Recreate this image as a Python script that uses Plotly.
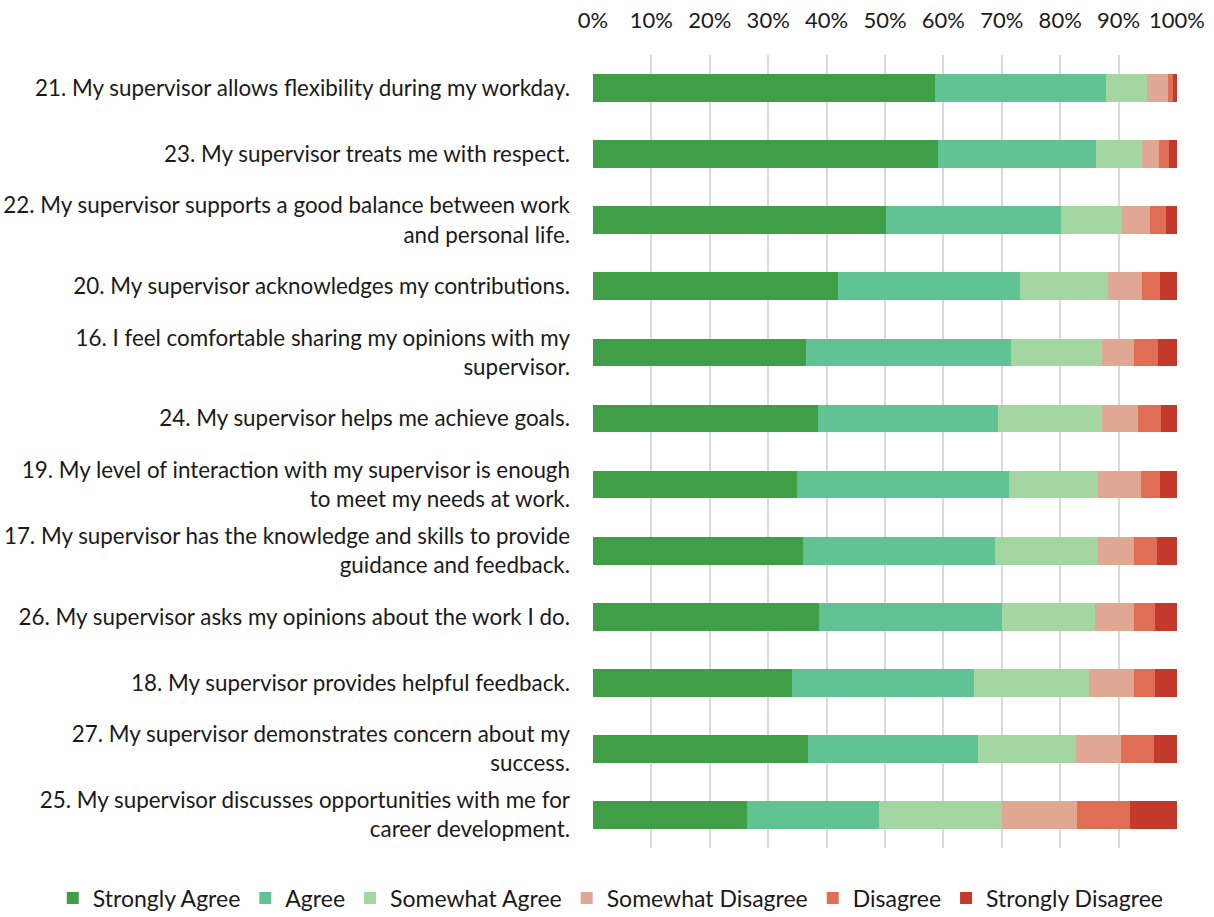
import plotly.graph_objects as go

# Survey items, listed top to bottom
items = [
    "21. My supervisor allows flexibility during my workday.",
    "23. My supervisor treats me with respect.",
    "22. My supervisor supports a good balance between work<br>and personal life.",
    "20. My supervisor acknowledges my contributions.",
    "16. I feel comfortable sharing my opinions with my<br>supervisor.",
    "24. My supervisor helps me achieve goals.",
    "19. My level of interaction with my supervisor is enough<br>to meet my needs at work.",
    "17. My supervisor has the knowledge and skills to provide<br>guidance and feedback.",
    "26. My supervisor asks my opinions about the work I do.",
    "18. My supervisor provides helpful feedback.",
    "27. My supervisor demonstrates concern about my<br>success.",
    "25. My supervisor discusses opportunities with me for<br>career development.",
]

# Response shares (percent) per item, same order as items
strongly_agree    = [58.6, 59.1, 50.1, 42.0, 36.4, 38.6, 34.9, 36.0, 38.7, 34.1, 36.8, 26.4]
agree             = [29.2, 27.1, 30.1, 31.2, 35.1, 30.8, 36.3, 32.9, 31.3, 31.1, 29.2, 22.5]
somewhat_agree    = [7.1, 7.8, 10.3, 15.0, 15.6, 17.7, 15.3, 17.5, 16.0, 19.8, 16.7, 21.1]
somewhat_disagree = [3.5, 3.0, 4.9, 5.8, 5.6, 6.2, 7.4, 6.2, 6.6, 7.7, 7.7, 12.9]
disagree          = [0.9, 1.6, 2.8, 3.1, 4.1, 3.9, 3.2, 3.9, 3.6, 3.6, 5.6, 9.1]
strongly_disagree = [0.7, 1.4, 1.8, 2.9, 3.2, 2.8, 2.9, 3.5, 3.8, 3.7, 4.0, 8.0]

series = [
    ("Strongly Agree", strongly_agree, "#409E46"),
    ("Agree", agree, "#61C294"),
    ("Somewhat Agree", somewhat_agree, "#A4D6A2"),
    ("Somewhat Disagree", somewhat_disagree, "#E0A793"),
    ("Disagree", disagree, "#E06E55"),
    ("Strongly Disagree", strongly_disagree, "#C3392B"),
]

fig = go.Figure()
for name, vals, color in series:
    fig.add_trace(go.Bar(
        name=name,
        y=items,
        x=[v / 100 for v in vals],
        orientation="h",
        marker=dict(color=color, line=dict(width=0)),
        width=0.42,
    ))

font_family = "Lato, Carlito, Calibri, sans-serif"

fig.update_layout(
    barmode="stack",
    width=1214,
    height=917,
    margin=dict(l=593, r=37, t=55, b=69, autoexpand=False),
    paper_bgcolor="white",
    plot_bgcolor="white",
    font=dict(family=font_family, size=22.4, color="#1a1a1a"),
    showlegend=True,
    # anchored left of the plot area so the single row may span the full width
    legend=dict(
        orientation="h",
        xref="paper",
        yref="paper",
        x=-0.925,
        xanchor="left",
        y=-0.036,
        yanchor="top",
        font=dict(size=23, family=font_family),
        itemwidth=30,
        traceorder="normal",
        bgcolor="rgba(0,0,0,0)",
    ),
    xaxis=dict(
        side="top",
        range=[0, 1],
        tickvals=[i / 10 for i in range(11)],
        tickformat=".0%",
        showgrid=True,
        gridcolor="#d9d9d9",
        gridwidth=1.5,
        zeroline=False,
        showline=False,
        ticks="",
        ticklabelstandoff=22,
        tickfont=dict(size=22),
        fixedrange=True,
    ),
    yaxis=dict(
        autorange="reversed",
        showgrid=False,
        showline=False,
        ticks="",
        ticklabelstandoff=22,
        tickfont=dict(size=22.4),
    ),
)

fig.write_html("out.html")
